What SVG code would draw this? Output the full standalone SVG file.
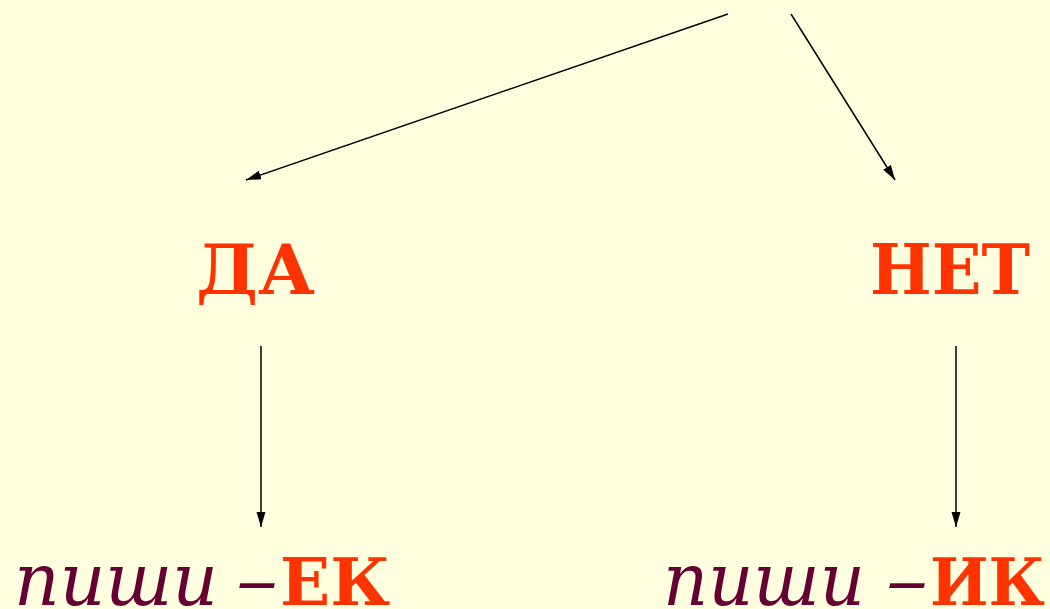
<svg xmlns="http://www.w3.org/2000/svg" width="1050" height="609" viewBox="0 0 1050 609">
<style>
.red{font-family:"DejaVu Serif","Liberation Serif",serif;font-weight:900;fill:#FF3300}
.it{font-family:"DejaVu Serif","Liberation Serif",serif;font-style:italic;fill:#660033}
.ln{stroke:#000;stroke-width:1.5;fill:none;marker-end:url(#ah)}
</style>
<defs>
<marker id="ah" viewBox="0 0 15 10" refX="15" refY="5" markerWidth="15" markerHeight="10" markerUnits="userSpaceOnUse" orient="auto">
<path d="M0,0.5 L15,5 L0,9.5 Z" fill="#000"/>
</marker>
</defs>
<rect width="1050" height="609" fill="#FFFFE0"/>
<g id="connectors">
<line class="ln" x1="728" y1="14" x2="246" y2="180"/>
<line class="ln" x1="791" y1="14" x2="895" y2="180"/>
<line class="ln" x1="261" y1="346" x2="261" y2="527"/>
<line class="ln" x1="956" y1="346" x2="956" y2="527"/>
</g>
<g id="da"><text class="red" x="196" y="294" font-size="70" textLength="119" lengthAdjust="spacingAndGlyphs">ДА</text></g>
<g id="net"><text class="red" x="870" y="294" font-size="70" textLength="160" lengthAdjust="spacingAndGlyphs">НЕТ</text></g>
<g id="ek">
<text class="it" x="14" y="605" font-size="72" textLength="204" lengthAdjust="spacingAndGlyphs">пиши</text>
<text class="it" x="236" y="605" font-size="72" textLength="42" lengthAdjust="spacingAndGlyphs">–</text>
<text class="red" x="280" y="605" font-size="65" textLength="110" lengthAdjust="spacingAndGlyphs">ЕК</text>
</g>
<g id="ik">
<text class="it" x="663" y="605" font-size="72" textLength="202" lengthAdjust="spacingAndGlyphs">пиши</text>
<text class="it" x="886" y="605" font-size="72" textLength="42" lengthAdjust="spacingAndGlyphs">–</text>
<text class="red" x="930" y="605" font-size="65" textLength="115" lengthAdjust="spacingAndGlyphs">ИК</text>
</g>
</svg>
